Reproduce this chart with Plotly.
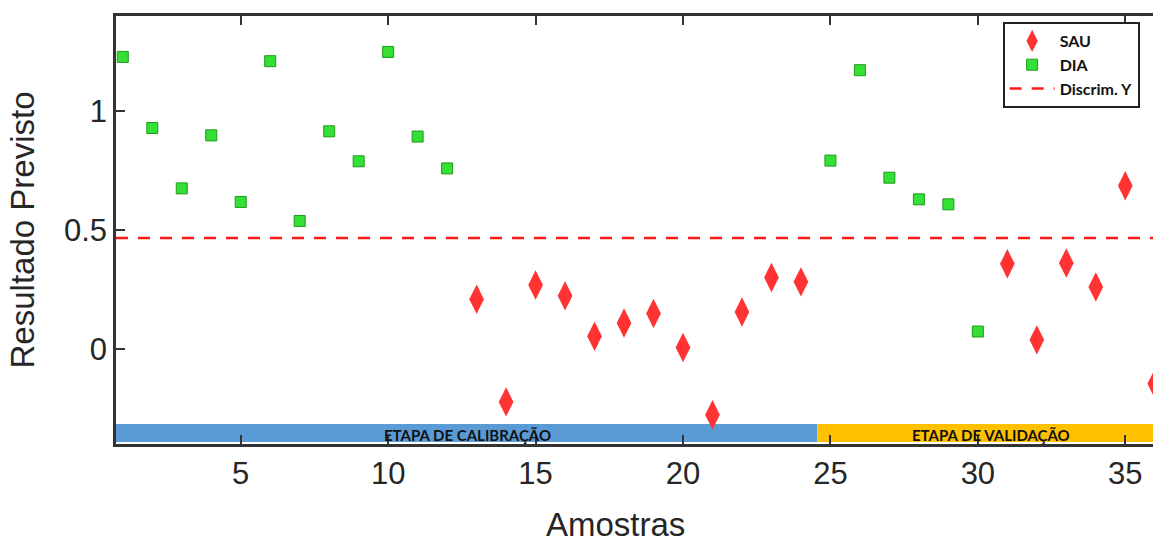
import plotly.graph_objects as go

# ---- data ----
dia_x = [1, 2, 3, 4, 5, 6, 7, 8, 9, 10, 11, 12, 25, 26, 27, 28, 29, 30]
dia_y = [1.228, 0.929, 0.675, 0.898, 0.618, 1.210, 0.538, 0.915, 0.789, 1.249, 0.893, 0.759,
         0.792, 1.172, 0.720, 0.629, 0.608, 0.073]
sau_x = [13, 14, 15, 16, 17, 18, 19, 20, 21, 22, 23, 24, 31, 32, 33, 34, 35, 36]
sau_y = [0.209, -0.223, 0.269, 0.223, 0.053, 0.109, 0.149, 0.006, -0.277, 0.155, 0.300, 0.282,
         0.358, 0.038, 0.361, 0.260, 0.686, -0.147]
discrim_y = 0.466
x_range = [0.77, 35.94]
y_range = [-0.40, 1.40]
x_ticks = [5, 10, 15, 20, 25, 30, 35]
y_ticks = [0, 0.5, 1]
stage_names = ["ETAPA DE CALIBRAÇÃO", "ETAPA DE VALIDAÇÃO"]
stage_bounds = [(x_range[0], 24.55), (24.55, x_range[1])]
stage_label_x = [12.68, 30.45]
stage_colors = ["#5B9BD5", "#FFC000"]
band_y = (-0.392, -0.316)

fig = go.Figure()
fig.add_trace(go.Scatter(
    x=sau_x, y=sau_y, mode="markers", name="SAU",
    marker=dict(symbol="diamond-tall", size=21, color="#FF3333",
                line=dict(width=0))))
fig.add_trace(go.Scatter(
    x=dia_x, y=dia_y, mode="markers", name="DIA",
    marker=dict(symbol="square", size=11, color="#33E033",
                line=dict(width=1, color="#1E9A1E"))))
fig.add_trace(go.Scatter(
    x=x_range, y=[discrim_y, discrim_y], mode="lines", name="Discrim. Y",
    line=dict(color="#FF1A1A", width=2.5, dash="12px,10px")))

for (x0, x1), col in zip(stage_bounds, stage_colors):
    fig.add_shape(type="rect", xref="x", yref="y", x0=x0, x1=x1,
                  y0=band_y[0], y1=band_y[1], fillcolor=col, line=dict(width=0),
                  layer="below")
for name, lx in zip(stage_names, stage_label_x):
    fig.add_annotation(x=lx, y=(band_y[0] + band_y[1]) / 2, xref="x", yref="y",
                       text=name, showarrow=False, yshift=-2,
                       font=dict(family="Lato", size=15, color="#111111", weight="bold"))

tick_font = dict(family="Liberation Sans", size=31, color="#262626")
title_font = dict(family="Liberation Sans", size=33, color="#262626")

# x-axis title placed as an annotation (it sits left of the plot-area centre)
fig.add_annotation(x=(615 - 116) / (1153 - 116), xref="paper", y=0, yref="paper",
                   text="Amostras", showarrow=False, font=title_font,
                   xanchor="center", yanchor="middle", yshift=-80)

fig.update_xaxes(range=x_range, tickvals=x_ticks, ticks="inside", ticklen=9,
                 tickwidth=2, tickcolor="#333333", showline=True, linewidth=2.5,
                 linecolor="#333333", mirror="ticks", showgrid=False, zeroline=False,
                 tickfont=tick_font)
fig.update_yaxes(range=y_range, tickvals=y_ticks, ticktext=["0", "0.5", "1"],
                 ticks="inside", ticklen=9, tickwidth=2, tickcolor="#333333",
                 showline=True, linewidth=2.5, linecolor="#333333", mirror=False,
                 showgrid=False, zeroline=False, tickfont=tick_font,
                 title=dict(text="Resultado Previsto", font=title_font, standoff=20))

fig.update_layout(
    width=1153, height=543,
    margin=dict(l=116, r=0, t=16, b=99),
    plot_bgcolor="white", paper_bgcolor="white",
    legend=dict(x=0.855, y=0.986, xanchor="left", yanchor="top",
                bgcolor="white", bordercolor="#222222", borderwidth=2,
                font=dict(family="Lato", size=16, color="#111111", weight="bold"),
                itemwidth=45, tracegroupgap=0),
    showlegend=True,
)

fig.write_html("out.html")
